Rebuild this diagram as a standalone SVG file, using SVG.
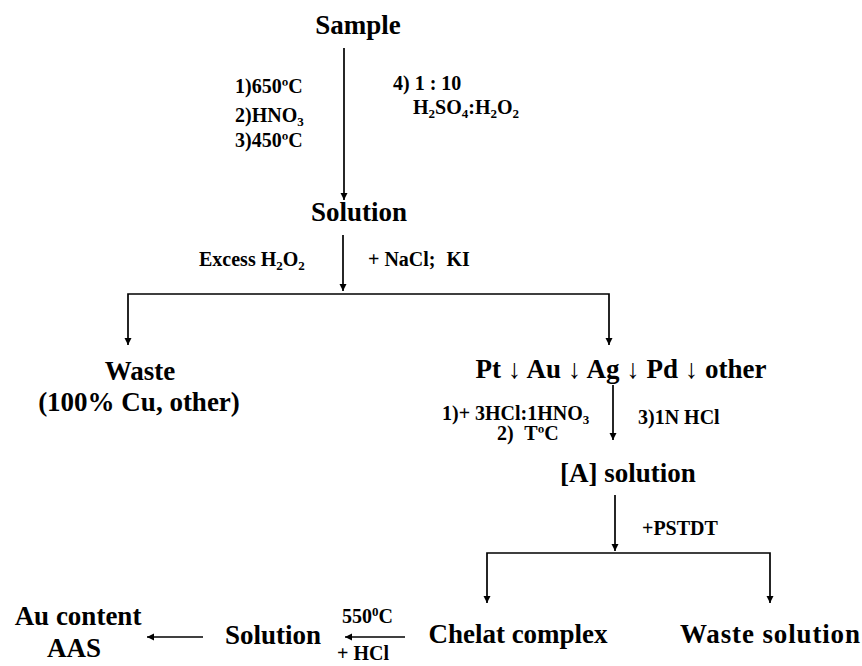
<svg xmlns="http://www.w3.org/2000/svg" width="862" height="666" viewBox="0 0 862 666">
<defs>
<marker id="ah" markerUnits="userSpaceOnUse" markerWidth="8" markerHeight="8" refX="7" refY="4" orient="auto">
<path d="M0,0.5 L7,4 L0,7.5 z" fill="#000"/>
</marker>
<style>
text{font-family:"Liberation Serif","DejaVu Serif",serif;font-weight:bold;fill:#000}
.big{font-size:27px}
.sm{font-size:20px}
.c{text-anchor:middle}
.ar{stroke:#000;stroke-width:1.7;fill:none;marker-end:url(#ah)}
</style>
</defs>
<rect width="862" height="666" fill="#fff"/>
<g id="connectors">
<line class="ar" x1="344" y1="48" x2="344" y2="200"/>
<line class="ar" x1="343" y1="235" x2="343" y2="291"/>
<polyline class="ar" points="343,294 128,294 128,345"/>
<polyline class="ar" points="343,294 609,294 609,345"/>
<line class="ar" x1="613" y1="385" x2="613" y2="440"/>
<line class="ar" x1="615" y1="495" x2="615" y2="551"/>
<polyline class="ar" points="615,553 487,553 487,603"/>
<polyline class="ar" points="615,553 770,553 770,603"/>
<line class="ar" x1="405" y1="637" x2="345" y2="637"/>
<line class="ar" x1="203" y1="637" x2="147" y2="637"/>
</g>
<g id="labels">
<text class="sm" x="235" y="93">1)650ºC</text>
<text class="sm" x="235" y="122">2)HNO<tspan font-size="13" dy="4">3</tspan></text>
<text class="sm" x="235" y="147">3)450ºC</text>
<text class="sm" x="393" y="90">4) 1 : 10</text>
<text class="sm" x="413" y="114">H<tspan font-size="13" dy="4">2</tspan><tspan dy="-4">SO</tspan><tspan font-size="13" dy="4">4</tspan><tspan dy="-4">:H</tspan><tspan font-size="13" dy="4">2</tspan><tspan dy="-4">O</tspan><tspan font-size="13" dy="4">2</tspan></text>
<text class="sm" x="199" y="266">Excess H<tspan font-size="13" dy="4">2</tspan><tspan dy="-4">O</tspan><tspan font-size="13" dy="4">2</tspan></text>
<text class="sm" x="368" y="266">+ NaCl; <tspan dx="6">KI</tspan></text>
<text class="sm" x="442" y="420">1)+ 3HCl:1HNO<tspan font-size="13" dy="4">3</tspan></text>
<text class="sm" x="497" y="440">2) <tspan dx="6">TºC</tspan></text>
<text class="sm" x="638" y="424">3)1N HCl</text>
<text class="sm" x="642" y="535">+PSTDT</text>
<text class="sm" x="342" y="623">550<tspan font-size="13" dy="-7">0</tspan><tspan dy="7">C</tspan></text>
<text class="sm" x="337" y="660">+ HCl</text>
</g>
<g id="sample"><text class="big c" x="358" y="34">Sample</text></g>
<g id="solution1"><text class="big c" x="359" y="221">Solution</text></g>
<g id="waste"><text class="big c" x="140" y="380">Waste</text><text class="big c" x="139" y="411">(100% Cu, other)</text></g>
<g id="precipitate"><text class="big c" x="621" y="378">Pt ↓ Au ↓ Ag ↓ Pd ↓ other</text></g>
<g id="a-solution"><text class="big c" x="628" y="482">[A] solution</text></g>
<g id="chelat"><text class="big c" x="518" y="643">Chelat complex</text></g>
<g id="waste-solution"><text class="big c" x="770" y="643" textLength="180" lengthAdjust="spacing">Waste solution</text></g>
<g id="solution2"><text class="big c" x="273" y="644">Solution</text></g>
<g id="au-content"><text class="big c" x="78" y="625">Au content</text><text class="big c" x="74" y="657">AAS</text></g>
</svg>
